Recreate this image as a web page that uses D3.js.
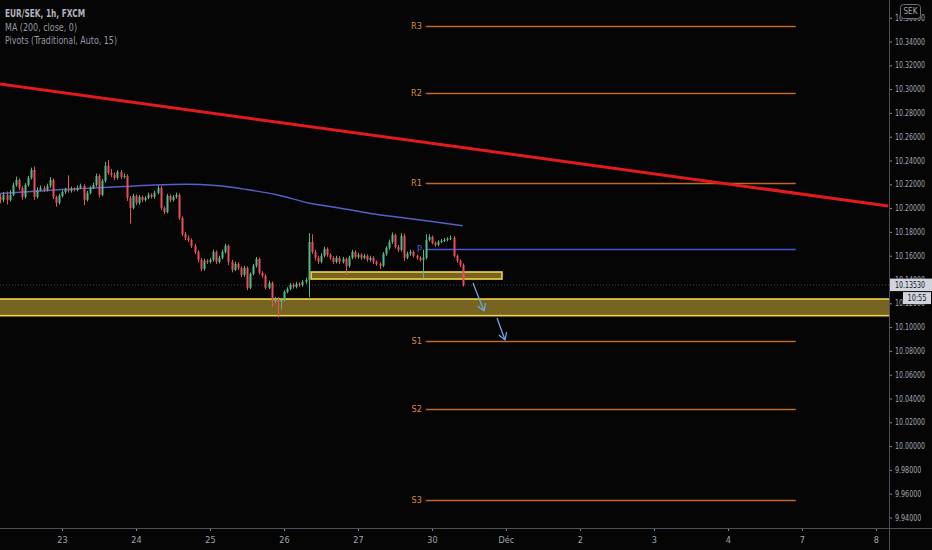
<!DOCTYPE html>
<html>
<head>
<meta charset="utf-8">
<script src="https://cdn.jsdelivr.net/npm/d3@7"></script>
<style>
  body { margin: 0; background: #050505; }
  svg { display: block; }
  text { font-family: "Liberation Sans Narrow", "DejaVu Sans Condensed", "Liberation Sans", sans-serif; }
</style>
</head>
<body>
<svg width="932" height="550"></svg>
<script>
// hourly candles, 20 Nov 20:00 -> 30 Nov 10:00 (index 0..150)
const firstOpen = 10.2094;
const closes = [
  10.2069, 10.2111, 10.2069, 10.2111, 10.2195, 10.2237, 10.2170, 10.2094, 10.2195, 10.2254,
  10.2321, 10.2094, 10.2153, 10.2170, 10.2153, 10.2187, 10.2237, 10.2094, 10.2044, 10.2103,
  10.2136, 10.2153, 10.2145, 10.2162, 10.2153, 10.2170, 10.2187, 10.2069, 10.2128, 10.2170,
  10.2195, 10.2271, 10.2111, 10.2229, 10.2355, 10.2296, 10.2279, 10.2254, 10.2304, 10.2262,
  10.2271, 10.2086, 10.2002, 10.2103, 10.2044, 10.2094, 10.2069, 10.2086, 10.2111, 10.2094,
  10.2128, 10.2170, 10.2002, 10.1968, 10.2103, 10.2069, 10.2094, 10.2111, 10.1918, 10.1783,
  10.1750, 10.1733, 10.1683, 10.1632, 10.1565, 10.1489, 10.1557, 10.1548, 10.1565, 10.1632,
  10.1548, 10.1582, 10.1632, 10.1683, 10.1548, 10.1481, 10.1531, 10.1498, 10.1439, 10.1498,
  10.1330, 10.1447, 10.1515, 10.1573, 10.1456, 10.1431, 10.1330, 10.1372, 10.1220, 10.1237,
  10.1212, 10.1229, 10.1296, 10.1321, 10.1355, 10.1338, 10.1363, 10.1355, 10.1380, 10.1397,
  10.1716, 10.1632, 10.1582, 10.1548, 10.1599, 10.1657, 10.1607, 10.1582, 10.1548, 10.1582,
  10.1548, 10.1573, 10.1515, 10.1582, 10.1632, 10.1590, 10.1607, 10.1582, 10.1599, 10.1565,
  10.1582, 10.1548, 10.1531, 10.1515, 10.1616, 10.1666, 10.1716, 10.1775, 10.1674, 10.1649,
  10.1767, 10.1582, 10.1616, 10.1632, 10.1599, 10.1582, 10.1565, 10.1582, 10.1733, 10.1758,
  10.1708, 10.1691, 10.1716, 10.1724, 10.1733, 10.1741, 10.1750, 10.1599, 10.1557, 10.1523,
  10.1353
];
const highs = [
  10.2120, 10.2135, 10.2140, 10.2150, 10.2215, 10.2265, 10.2250, 10.2185, 10.2210, 10.2270,
  10.2340, 10.2350, 10.2175, 10.2190, 10.2185, 10.2205, 10.2260, 10.2250, 10.2105, 10.2120,
  10.2150, 10.2170, 10.2275, 10.2180, 10.2175, 10.2190, 10.2205, 10.2200, 10.2145, 10.2185,
  10.2215, 10.2290, 10.2285, 10.2245, 10.2390, 10.2405, 10.2330, 10.2300, 10.2320, 10.2320,
  10.2290, 10.2285, 10.2100, 10.2120, 10.2115, 10.2110, 10.2105, 10.2100, 10.2130, 10.2125,
  10.2145, 10.2190, 10.2185, 10.2015, 10.2120, 10.2115, 10.2110, 10.2130, 10.2125, 10.1930,
  10.1800, 10.1770, 10.1745, 10.1700, 10.1645, 10.1580, 10.1575, 10.1570, 10.1580, 10.1650,
  10.1645, 10.1600, 10.1650, 10.1700, 10.1695, 10.1565, 10.1550, 10.1545, 10.1510, 10.1515,
  10.1510, 10.1460, 10.1530, 10.1590, 10.1585, 10.1470, 10.1445, 10.1390, 10.1385, 10.1255,
  10.1250, 10.1245, 10.1310, 10.1335, 10.1370, 10.1370, 10.1380, 10.1375, 10.1395, 10.1415,
  10.1790, 10.1780, 10.1650, 10.1600, 10.1620, 10.1675, 10.1670, 10.1620, 10.1595, 10.1600,
  10.1595, 10.1590, 10.1585, 10.1600, 10.1650, 10.1645, 10.1625, 10.1620, 10.1615, 10.1610,
  10.1600, 10.1595, 10.1560, 10.1545, 10.1630, 10.1680, 10.1735, 10.1795, 10.1785, 10.1690,
  10.1790, 10.1785, 10.1635, 10.1650, 10.1645, 10.1610, 10.1595, 10.1650, 10.1780, 10.1780,
  10.1770, 10.1720, 10.1730, 10.1740, 10.1750, 10.1755, 10.1770, 10.1765, 10.1610, 10.1570,
  10.1535
];
const lows = [
  10.2040, 10.2050, 10.2030, 10.2055, 10.2100, 10.2180, 10.2150, 10.2070, 10.2080, 10.2180,
  10.2240, 10.2070, 10.2080, 10.2140, 10.2135, 10.2140, 10.2170, 10.2075, 10.2010, 10.2030,
  10.2090, 10.2120, 10.2130, 10.2130, 10.2140, 10.2140, 10.2160, 10.2025, 10.2055, 10.2115,
  10.2160, 10.2180, 10.2090, 10.2100, 10.2215, 10.2280, 10.2260, 10.2235, 10.2240, 10.2245,
  10.2250, 10.2060, 10.1870, 10.1990, 10.2025, 10.2030, 10.2050, 10.2055, 10.2075, 10.2080,
  10.2080, 10.2115, 10.1985, 10.1950, 10.1955, 10.2050, 10.2055, 10.2080, 10.1900, 10.1765,
  10.1730, 10.1715, 10.1665, 10.1615, 10.1545, 10.1470, 10.1475, 10.1530, 10.1535, 10.1550,
  10.1530, 10.1535, 10.1570, 10.1620, 10.1520, 10.1460, 10.1470, 10.1480, 10.1420, 10.1425,
  10.1310, 10.1320, 10.1435, 10.1500, 10.1440, 10.1415, 10.1315, 10.1320, 10.1170, 10.1200,
  10.1080, 10.1150, 10.1215, 10.1285, 10.1310, 10.1325, 10.1325, 10.1340, 10.1340, 10.1365,
  10.1250, 10.1615, 10.1560, 10.1530, 10.1535, 10.1585, 10.1590, 10.1565, 10.1530, 10.1535,
  10.1530, 10.1535, 10.1440, 10.1500, 10.1570, 10.1575, 10.1575, 10.1565, 10.1570, 10.1550,
  10.1550, 10.1530, 10.1515, 10.1490, 10.1505, 10.1600, 10.1650, 10.1700, 10.1660, 10.1630,
  10.1635, 10.1555, 10.1570, 10.1600, 10.1585, 10.1565, 10.1550, 10.1410, 10.1570, 10.1720,
  10.1695, 10.1675, 10.1680, 10.1705, 10.1715, 10.1720, 10.1730, 10.1585, 10.1540, 10.1505,
  10.1340
];

// MA(200) read every 10 candles
const maIndex = [0, 10, 20, 30, 40, 50, 60, 70, 80, 90, 100, 110, 120, 130, 140, 150];
const maValues = [10.2123, 10.2139, 10.2156, 10.2169, 10.2181, 10.2194, 10.2200, 10.2190,
                  10.2156, 10.2110, 10.2043, 10.2001, 10.1955, 10.1921, 10.1887, 10.1852];

// weekly pivots
const pivotNames = ['R3', 'R2', 'R1', 'P', 'S1', 'S2', 'S3'];
const pivotValues = [10.3530, 10.2967, 10.2211, 10.1656, 10.0883, 10.0312, 9.9547];
const pivotSpan = [138, 258];

// axis ticks
const dayTicks = [20, 44, 68, 92, 116, 140, 164, 188, 212, 236, 260, 284];
const dayLabels = ['23', '24', '25', '26', '27', '30', 'Déc', '2', '3', '4', '7', '8'];
const priceTicks = [10.36, 10.34, 10.32, 10.30, 10.28, 10.26, 10.24, 10.22, 10.20, 10.18, 10.16,
                    10.14, 10.12, 10.10, 10.08, 10.06, 10.04, 10.02, 10.00, 9.98, 9.96, 9.94];

// drawings
const trendIndex = [0, 288];
const trendPrice = [10.3043, 10.2018];
const bigZone = { from: -10, to: 300, top: 10.1236, bottom: 10.1096 };
const smallZone = { from: 100.8, to: 162.7, top: 10.1463, bottom: 10.1404 };
const arrows = [
  { i0: 153.3, p0: 10.1371, i1: 156.9, p1: 10.1135 },
  { i0: 161.1, p0: 10.1076, i1: 163.7, p1: 10.0891 }
];
const lastPrice = 10.1353;
const countdown = '10:55';
const legendLines = ['EUR/SEK, 1h, FXCM', 'MA (200, close, 0)', 'Pivots (Traditional, Auto, 15)'];
const legendWidths = [80, 72, 112];

const W = 932, H = 550, plotW = 889, plotH = 528;
const upColor = '#53b987', downColor = '#eb4d5c';
const axisFont = '"Liberation Sans Narrow", "DejaVu Sans Condensed", sans-serif';

const x = d3.scaleLinear().domain([0, 284]).range([0.34, 0.34 + 284 * 3.083]);
const y = d3.scaleLinear().domain([9.94, 10.34]).range([517.5, 41.5]);

const svg = d3.select('svg');
svg.append('rect').attr('width', W).attr('height', H).attr('fill', '#050505');

svg.append('clipPath').attr('id', 'plot')
  .append('rect').attr('width', plotW).attr('height', plotH);

const plot = svg.append('g').attr('clip-path', 'url(#plot)');

// pivot lines
const pivots = pivotNames.map((n, i) => ({ n, v: pivotValues[i] }));
plot.selectAll('.pivot').data(pivots).enter().append('line')
  .attr('x1', x(pivotSpan[0])).attr('x2', x(pivotSpan[1]))
  .attr('y1', d => Math.round(y(d.v)) + 0.5).attr('y2', d => Math.round(y(d.v)) + 0.5)
  .attr('stroke', d => d.n === 'P' ? '#4f4fd8' : '#c0692a')
  .attr('stroke-width', d => d.n === 'P' ? 1.5 : 1.3);
plot.selectAll('.plabel').data(pivots).enter().append('text')
  .attr('x', x(pivotSpan[0]) - 4).attr('y', d => y(d.v)).attr('dy', '0.35em')
  .attr('text-anchor', 'end').attr('font-size', 9)
  .attr('fill', d => d.n === 'P' ? '#5a5ae0' : '#dc8a3e')
  .text(d => d.n);

// last price dotted line
plot.append('line')
  .attr('x1', 0).attr('x2', plotW).attr('y1', y(lastPrice)).attr('y2', y(lastPrice))
  .attr('stroke', '#3e4049').attr('stroke-dasharray', '1,2');

// zones
[bigZone, smallZone].forEach(z => {
  plot.append('rect')
    .attr('x', x(z.from)).attr('width', x(z.to) - x(z.from))
    .attr('y', y(z.top)).attr('height', y(z.bottom) - y(z.top))
    .attr('fill', 'rgb(200,168,52)').attr('fill-opacity', 0.58)
    .attr('stroke', '#f2d34b').attr('stroke-width', 1.6);
});

// moving average
const ma = maIndex.map((k, i) => [k, maValues[i]]);
plot.append('path').datum(ma)
  .attr('d', d3.line().x(d => x(d[0])).y(d => y(d[1])).curve(d3.curveMonotoneX))
  .attr('fill', 'none').attr('stroke', '#5b5ec4').attr('stroke-width', 1.4);

// candles
const candles = closes.map((c, i) => ({ i, o: i ? closes[i - 1] : firstOpen, c, h: highs[i], l: lows[i] }));
const cg = plot.append('g');
cg.selectAll('.wick').data(candles).enter().append('line')
  .attr('x1', d => Math.round(x(d.i)) + 0.5).attr('x2', d => Math.round(x(d.i)) + 0.5)
  .attr('y1', d => y(d.h)).attr('y2', d => y(d.l))
  .attr('stroke', d => d.c >= d.o ? upColor : downColor).attr('stroke-width', 1);
cg.selectAll('.body').data(candles).enter().append('rect')
  .attr('x', d => Math.round(x(d.i)) - 0.5).attr('width', 2)
  .attr('y', d => y(Math.max(d.o, d.c)))
  .attr('height', d => Math.max(1, Math.abs(y(d.o) - y(d.c))))
  .attr('fill', d => d.c >= d.o ? upColor : downColor);

// trend line
plot.append('line')
  .attr('x1', x(trendIndex[0]) - 1).attr('y1', y(trendPrice[0]))
  .attr('x2', x(trendIndex[1])).attr('y2', y(trendPrice[1]))
  .attr('stroke', '#e11b1b').attr('stroke-width', 3);

// arrows
arrows.forEach(a => {
  const x0 = x(a.i0), y0 = y(a.p0), x1 = x(a.i1), y1 = y(a.p1);
  const ang = Math.atan2(y1 - y0, x1 - x0), len = 8;
  const g = plot.append('g').attr('stroke', '#6ea6e6').attr('stroke-width', 1.3).attr('fill', 'none');
  g.append('line').attr('x1', x0).attr('y1', y0).attr('x2', x1).attr('y2', y1);
  [-0.55, 0.55].forEach(s => {
    g.append('line').attr('x1', x1).attr('y1', y1)
      .attr('x2', x1 - len * Math.cos(ang + s)).attr('y2', y1 - len * Math.sin(ang + s));
  });
});

// price axis
const yAxis = svg.append('g').attr('transform', `translate(${plotW},0)`)
  .call(d3.axisRight(y).tickValues(priceTicks).tickFormat(d3.format('.5f')).tickSize(3).tickPadding(3));
yAxis.select('.domain').remove();
yAxis.selectAll('line').attr('stroke', '#8a8d96');
yAxis.selectAll('text').attr('fill', '#a3a6af').attr('font-size', 8)
  .style('font-family', axisFont)
  .attr('textLength', function () { return this.textContent.length * 3.75; })
  .attr('lengthAdjust', 'spacingAndGlyphs');

// time axis
const xAxis = svg.append('g').attr('transform', `translate(0,${plotH})`)
  .call(d3.axisBottom(x).tickValues(dayTicks).tickFormat((d, i) => dayLabels[i]).tickSize(3).tickPadding(6));
xAxis.select('.domain').remove();
xAxis.selectAll('line').attr('stroke', '#8a8d96');
xAxis.selectAll('text').attr('fill', '#a3a6af').attr('font-size', 9)
  .style('font-family', axisFont);

// separators
svg.append('line').attr('x1', plotW + 0.5).attr('x2', plotW + 0.5).attr('y1', 0).attr('y2', H)
  .attr('stroke', '#4e5058');
svg.append('line').attr('x1', 0).attr('x2', W).attr('y1', plotH + 0.5).attr('y2', plotH + 0.5)
  .attr('stroke', '#4e5058');

// last price label and countdown
const lp = y(lastPrice);
svg.append('rect').attr('x', plotW + 1).attr('y', lp - 6.5).attr('width', W - plotW - 1).attr('height', 12.5)
  .attr('fill', '#d1d4dc');
svg.append('text').attr('x', plotW + 6).attr('y', lp).attr('dy', '0.35em')
  .attr('font-size', 8).attr('fill', '#131722')
  .attr('textLength', 30).attr('lengthAdjust', 'spacingAndGlyphs')
  .text(d3.format('.5f')(lastPrice));
svg.append('rect').attr('x', 903).attr('y', lp + 7).attr('width', 28).attr('height', 12)
  .attr('fill', '#d1d4dc');
svg.append('text').attr('x', 917).attr('y', lp + 13).attr('dy', '0.35em').attr('text-anchor', 'middle')
  .attr('font-size', 8.5).attr('fill', '#131722')
  .attr('textLength', 19).attr('lengthAdjust', 'spacingAndGlyphs')
  .text(countdown);

// currency badge
svg.append('rect').attr('x', 900.5).attr('y', 4.5).attr('width', 20).attr('height', 14).attr('rx', 3)
  .attr('fill', '#050505').attr('stroke', '#6b6e77');
svg.append('text').attr('x', 910.5).attr('y', 11.5).attr('dy', '0.35em').attr('text-anchor', 'middle')
  .attr('font-size', 8).attr('fill', '#a3a6af')
  .attr('textLength', 14).attr('lengthAdjust', 'spacingAndGlyphs')
  .text('SEK');

// legend
svg.selectAll('.legend').data(legendLines).enter().append('text')
  .attr('x', 5).attr('y', (d, i) => 17 + i * 13.5)
  .attr('font-size', 10).attr('fill', (d, i) => i ? '#9598a1' : '#b2b5be')
  .attr('font-weight', (d, i) => i ? 'normal' : 'bold')
  .attr('textLength', (d, i) => legendWidths[i]).attr('lengthAdjust', 'spacingAndGlyphs')
  .text(d => d);
</script>
</body>
</html>
